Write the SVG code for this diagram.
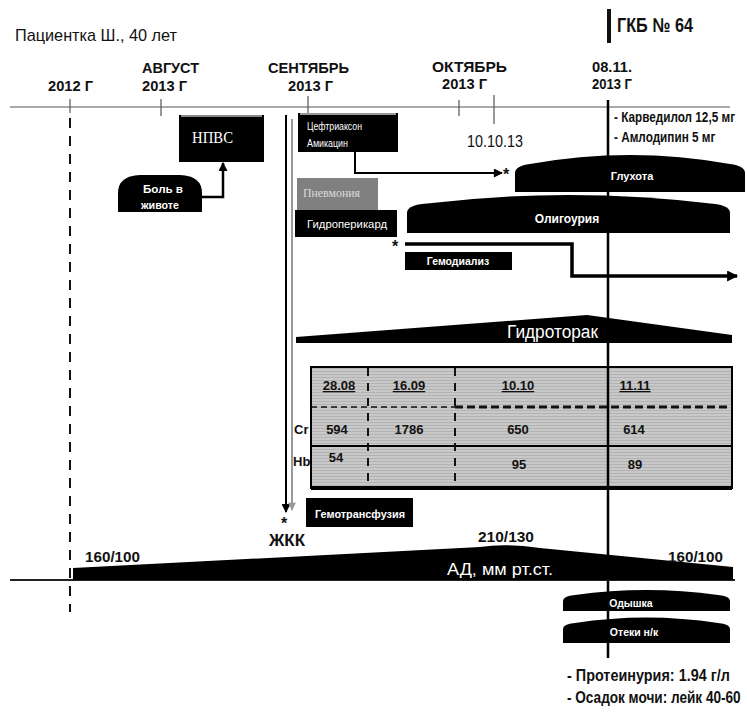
<svg xmlns="http://www.w3.org/2000/svg" width="747" height="715" viewBox="0 0 747 715">
<style>
text{font-family:"Liberation Sans",Arial,sans-serif;fill:#111}
.b{font-weight:bold}
.w{fill:#fff}
.s{font-family:"Liberation Serif","Times New Roman",serif}
.box{fill:#000}
.dome{fill:#000}
.ln{stroke:#000;fill:none}
</style>
<defs>
<pattern id="stripes" width="4" height="3" patternUnits="userSpaceOnUse">
<rect width="4" height="3" fill="#c8c8c8"/>
<rect y="2" width="4" height="1" fill="#b3b3b3"/>
</pattern>
<marker id="ah" viewBox="0 0 10 10" refX="9" refY="5" markerWidth="10" markerHeight="9" orient="auto" markerUnits="userSpaceOnUse">
<path d="M0,0 L10,5 L0,10 Z" fill="#000"/>
</marker>
<marker id="ahBig" viewBox="0 0 10 10" refX="9" refY="5" markerWidth="13" markerHeight="11" orient="auto" markerUnits="userSpaceOnUse">
<path d="M0,0 L10,5 L0,10 Z" fill="#000"/>
</marker>
<marker id="ahGrey" viewBox="0 0 10 10" refX="9" refY="5" markerWidth="9" markerHeight="8" orient="auto" markerUnits="userSpaceOnUse">
<path d="M0,0 L10,5 L0,10 Z" fill="#999"/>
</marker>
</defs>
<rect width="747" height="715" fill="#fff"/>

<g id="header">
<text x="15" y="41" font-size="17" textLength="162" lengthAdjust="spacingAndGlyphs">Пациентка Ш., 40 лет</text>
<rect x="607" y="9" width="4" height="34" fill="#111"/>
<text class="b" x="617" y="32" font-size="20" textLength="76" lengthAdjust="spacingAndGlyphs">ГКБ № 64</text>
</g>

<g id="timeline">
<line x1="10" y1="107" x2="730" y2="107" stroke="#555" stroke-width="1.2"/>
<line x1="70" y1="99" x2="70" y2="113" stroke="#555" stroke-width="1.2"/>
<line x1="161" y1="99" x2="161" y2="116" stroke="#555" stroke-width="1.2"/>
<line x1="308" y1="96" x2="308" y2="113" stroke="#555" stroke-width="1.2"/>
<line x1="459" y1="100" x2="459" y2="116" stroke="#555" stroke-width="1.2"/>
<line x1="494" y1="95" x2="494" y2="124" stroke="#555" stroke-width="1.2"/>
<text class="b" x="48" y="91" font-size="15" textLength="45" lengthAdjust="spacingAndGlyphs">2012 Г</text>
<text class="b" x="142" y="73" font-size="15" textLength="57" lengthAdjust="spacingAndGlyphs">АВГУСТ</text>
<text class="b" x="142" y="91" font-size="15" textLength="45" lengthAdjust="spacingAndGlyphs">2013 Г</text>
<text class="b" x="268" y="73" font-size="15" textLength="81" lengthAdjust="spacingAndGlyphs">СЕНТЯБРЬ</text>
<text class="b" x="288" y="91" font-size="15" textLength="45" lengthAdjust="spacingAndGlyphs">2013 Г</text>
<text class="b" x="432" y="72" font-size="15" textLength="75" lengthAdjust="spacingAndGlyphs">ОКТЯБРЬ</text>
<text class="b" x="442" y="89" font-size="15" textLength="45" lengthAdjust="spacingAndGlyphs">2013 Г</text>
<text class="b" x="592" y="72" font-size="15" textLength="40" lengthAdjust="spacingAndGlyphs">08.11.</text>
<text class="b" x="592" y="89" font-size="15" textLength="40" lengthAdjust="spacingAndGlyphs">2013 Г</text>
<text x="467" y="147" font-size="17" textLength="56" lengthAdjust="spacingAndGlyphs">10.10.13</text>
<text class="b" transform="translate(614,122) scale(0.84,1)" font-size="14">- Карведилол 12,5 мг</text>
<text class="b" transform="translate(614,142) scale(0.84,1)" font-size="14">- Амлодипин 5 мг</text>
</g>

<g id="connectors">
<line x1="70" y1="118" x2="70" y2="612" stroke="#111" stroke-width="2" stroke-dasharray="10,8"/>
<line x1="608" y1="100" x2="608" y2="658" stroke="#000" stroke-width="2.5"/>
<path class="ln" d="M202,197 H223 V163" stroke-width="2.5" marker-end="url(#ah)"/>
<path class="ln" d="M355,152 V173 H502" stroke-width="2" marker-end="url(#ah)"/>
<path class="ln" d="M405,244 H572 V276 H737" stroke-width="3.5" marker-end="url(#ahBig)"/>
<line x1="286" y1="115" x2="286" y2="512" stroke="#000" stroke-width="2" marker-end="url(#ah)"/>
<line x1="292" y1="119" x2="292" y2="510" stroke="#999" stroke-width="2" marker-end="url(#ahGrey)"/>
<line x1="10" y1="580" x2="735" y2="580" stroke="#222" stroke-width="2"/>
</g>

<g id="marks">
<text class="b" x="503" y="180" font-size="16">*</text>
<text class="b" x="392" y="252" font-size="16">*</text>
<text class="b" x="281" y="529" font-size="16">*</text>
<text class="b" x="269" y="546" font-size="17" textLength="36" lengthAdjust="spacingAndGlyphs">ЖКК</text>
</g>

<g id="npvs">
<rect class="box" x="179" y="115" width="85" height="47"/>
<rect x="181" y="115" width="81" height="2" fill="#888"/>
<text class="s w" x="192" y="143" font-size="17" textLength="41" lengthAdjust="spacingAndGlyphs">НПВС</text>
</g>

<g id="pain">
<path class="dome" d="M118,212 V193 Q118,176 140,175 H180 Q202,176 202,193 V212 Z"/>
<text class="b w" x="143" y="193" font-size="10" textLength="40" lengthAdjust="spacingAndGlyphs">Боль в</text>
<text class="b w" x="141" y="209" font-size="10" textLength="38" lengthAdjust="spacingAndGlyphs">животе</text>
</g>

<g id="ceftriaxone">
<rect class="box" x="298" y="113" width="100" height="39"/>
<rect x="300" y="113" width="96" height="2" fill="#999"/>
<text class="w" x="307" y="130" font-size="10" textLength="55" lengthAdjust="spacingAndGlyphs">Цефтриаксон</text>
<text class="w" x="307" y="147" font-size="10" textLength="41" lengthAdjust="spacingAndGlyphs">Амикацин</text>
</g>

<g id="pneumonia">
<rect x="297" y="178" width="81" height="32" fill="#808080"/>
<text class="s" x="303" y="197" font-size="13" style="fill:#dcdcdc" textLength="57" lengthAdjust="spacingAndGlyphs">Пневмония</text>
</g>

<g id="hydropericard">
<rect class="box" x="295" y="210" width="102" height="27"/>
<text class="w" x="307" y="228" font-size="11" textLength="80" lengthAdjust="spacingAndGlyphs">Гидроперикард</text>
</g>

<g id="deafness">
<path class="dome" d="M515,192 V173 Q515,166 530,164 Q630,146 730,164 Q745,166 745,173 V192 Z"/>
<text class="b w" x="632" y="180" font-size="11" text-anchor="middle">Глухота</text>
</g>

<g id="oliguria">
<path class="dome" d="M407,233 V213 Q407,206 422,204 Q568,186 715,204 Q730,206 730,213 V233 Z"/>
<text class="b w" x="567" y="223" font-size="12" text-anchor="middle">Олигоурия</text>
</g>

<g id="hemodialysis">
<rect class="box" x="405" y="252" width="107" height="18"/>
<text class="b w" x="458" y="265" font-size="10.5" text-anchor="middle">Гемодиализ</text>
</g>

<g id="hydrothorax">
<path class="dome" d="M296,343 V337 L587,315 L732,335 V343 Z"/>
<text class="w" x="507" y="338" font-size="18" textLength="91" lengthAdjust="spacingAndGlyphs">Гидроторак</text>
</g>

<g id="labtable">
<rect x="311" y="367" width="421" height="121" fill="url(#stripes)" stroke="#000" stroke-width="2"/>
<line x1="311" y1="407" x2="455" y2="407" stroke="#111" stroke-width="1.5" stroke-dasharray="6,4"/>
<line x1="455" y1="407" x2="732" y2="407" stroke="#111" stroke-width="3" stroke-dasharray="8,4"/>
<line x1="311" y1="446" x2="732" y2="446" stroke="#000" stroke-width="2"/>
<line x1="311" y1="488" x2="732" y2="488" stroke="#000" stroke-width="4"/>
<line x1="368" y1="368" x2="368" y2="487" stroke="#111" stroke-width="2" stroke-dasharray="8,7"/>
<line x1="455" y1="368" x2="455" y2="487" stroke="#111" stroke-width="2" stroke-dasharray="8,7"/>
<line x1="608" y1="367" x2="608" y2="488" stroke="#000" stroke-width="2.5"/>
<g font-size="13" text-anchor="middle">
<text class="b" x="339" y="390" text-decoration="underline">28.08</text>
<text class="b" x="409" y="390" text-decoration="underline">16.09</text>
<text class="b" x="518" y="390" text-decoration="underline">10.10</text>
<text class="b" x="635" y="390" text-decoration="underline">11.11</text>
</g>
<g font-size="13" text-anchor="middle">
<text class="b" x="337" y="434">594</text>
<text class="b" x="409" y="434">1786</text>
<text class="b" x="518" y="434">650</text>
<text class="b" x="634" y="434">614</text>
<text class="b" x="336" y="462">54</text>
<text class="b" x="519" y="469">95</text>
<text class="b" x="635" y="469">89</text>
</g>
<text class="b" x="294" y="434" font-size="13">Cr</text>
<text class="b" x="293" y="466" font-size="13">Hb</text>
</g>

<g id="transfusion">
<rect class="box" x="306" y="498" width="107" height="29"/>
<text class="b w" x="360" y="518" font-size="11" text-anchor="middle" textLength="90" lengthAdjust="spacingAndGlyphs">Гемотрансфузия</text>
</g>

<g id="bloodpressure">
<path class="dome" d="M73,580 V568 L480,547 Q505,543 540,548 L733,567 V580 Z"/>
<text class="w" x="447" y="575" font-size="17" textLength="106" lengthAdjust="spacingAndGlyphs">АД, мм рт.ст.</text>
<text class="b" x="506" y="542" font-size="15" text-anchor="middle" textLength="56" lengthAdjust="spacingAndGlyphs">210/130</text>
<text class="b" x="85" y="562" font-size="15" textLength="55" lengthAdjust="spacingAndGlyphs">160/100</text>
<text class="b" x="668" y="562" font-size="15" textLength="55" lengthAdjust="spacingAndGlyphs">160/100</text>
</g>

<g id="dyspnea">
<path class="dome" d="M563,611 V601 Q563,596 575,595 Q646,585 718,595 Q730,596 730,601 V611 Z"/>
<text class="b w" x="631" y="607" font-size="10.5" text-anchor="middle">Одышка</text>
</g>

<g id="edema">
<path class="dome" d="M563,643 V629 Q563,624 575,623 Q646,612 718,623 Q730,624 730,629 V643 Z"/>
<text class="b w" x="634" y="636" font-size="10.5" text-anchor="middle">Отеки н/к</text>
</g>

<g id="urine">
<text class="b" transform="translate(567,681) scale(0.9,1)" font-size="16">- Протеинурия: 1.94 г/л</text>
<text class="b" transform="translate(567,703) scale(0.85,1)" font-size="16">- Осадок мочи: лейк 40-60</text>
</g>
</svg>
